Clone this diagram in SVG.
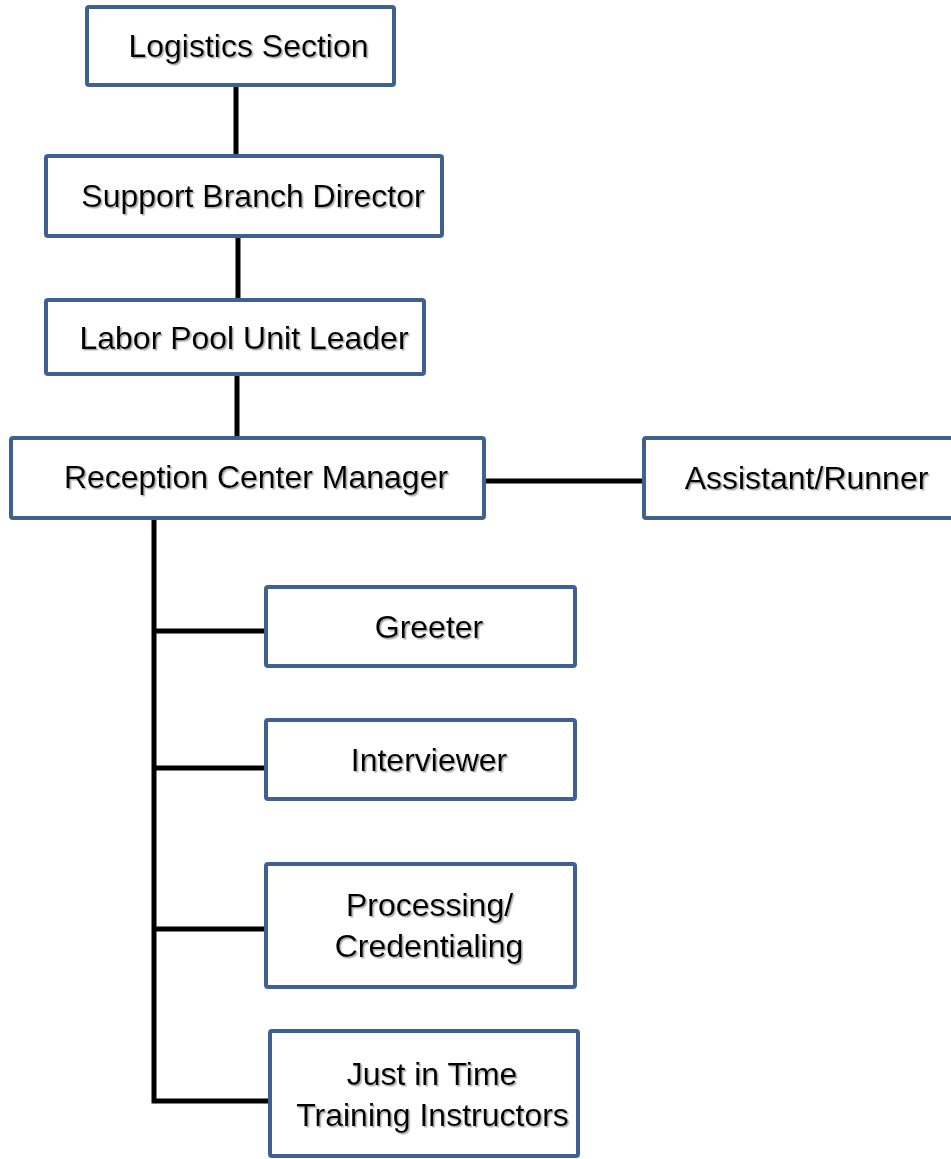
<svg xmlns="http://www.w3.org/2000/svg" width="951" height="1159" viewBox="0 0 951 1159">
<style>
.box{fill:#fff;stroke:#3f6090;stroke-width:4}
.lbl{font-family:"Liberation Sans",Arial,sans-serif;font-size:32px;fill:#000;text-anchor:middle;filter:url(#sh)}
.ln{stroke:#000;stroke-width:5;fill:none}
</style>
<defs>
<filter id="sh" x="-5%" y="-20%" width="110%" height="140%">
<feDropShadow dx="1.5" dy="1.5" stdDeviation="0.6" flood-color="#888" flood-opacity="0.7"/>
</filter>
</defs>
<rect width="951" height="1159" fill="#fff"/>
<g id="connectors">
<line class="ln" x1="236" y1="86" x2="236" y2="156"/>
<line class="ln" x1="238" y1="237" x2="238" y2="300"/>
<line class="ln" x1="237" y1="375" x2="237" y2="438"/>
<line class="ln" x1="485" y1="481" x2="643" y2="481"/>
<polyline class="ln" points="154,519 154,1101 269,1101"/>
<line class="ln" x1="154" y1="631" x2="265" y2="631"/>
<line class="ln" x1="154" y1="768" x2="265" y2="768"/>
<line class="ln" x1="154" y1="929" x2="265" y2="929"/>
</g>
<g id="logistics">
<rect class="box" x="87" y="7" width="307" height="78" rx="2"/>
<text class="lbl" x="248.5" y="57">Logistics Section</text>
</g>
<g id="support">
<rect class="box" x="46" y="156" width="396" height="80" rx="2"/>
<text class="lbl" x="253" y="207">Support Branch Director</text>
</g>
<g id="laborpool">
<rect class="box" x="46" y="300" width="378" height="74" rx="2"/>
<text class="lbl" x="244" y="349">Labor Pool Unit Leader</text>
</g>
<g id="reception">
<rect class="box" x="11" y="438" width="473" height="80" rx="2"/>
<text class="lbl" x="256" y="488">Reception Center Manager</text>
</g>
<g id="assistant">
<rect class="box" x="644" y="438" width="310" height="80" rx="2"/>
<text class="lbl" x="806.5" y="489">Assistant/Runner</text>
</g>
<g id="greeter">
<rect class="box" x="266" y="587" width="309" height="79" rx="2"/>
<text class="lbl" x="429" y="638">Greeter</text>
</g>
<g id="interviewer">
<rect class="box" x="266" y="720" width="309" height="79" rx="2"/>
<text class="lbl" x="429" y="771">Interviewer</text>
</g>
<g id="processing">
<rect class="box" x="266" y="864" width="309" height="123" rx="2"/>
<text class="lbl" x="429.5" y="916">Processing/</text>
<text class="lbl" x="429" y="957">Credentialing</text>
</g>
<g id="jitt">
<rect class="box" x="270" y="1031" width="308" height="125" rx="2"/>
<text class="lbl" x="432" y="1085">Just in Time</text>
<text class="lbl" x="432.5" y="1126">Training Instructors</text>
</g>
</svg>
